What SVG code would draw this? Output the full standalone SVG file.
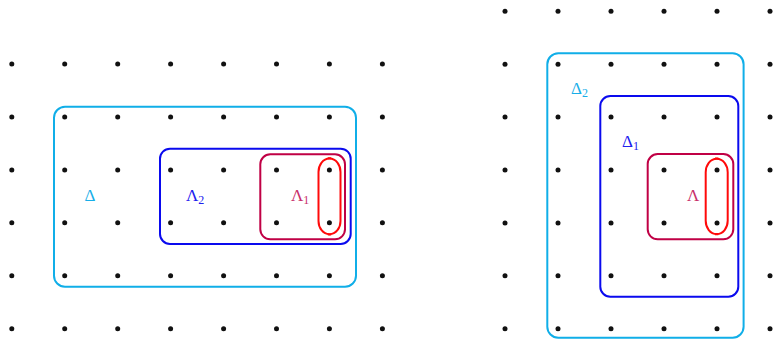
<svg xmlns="http://www.w3.org/2000/svg" width="775" height="339" viewBox="0 0 775 339">
<style>
.dot{fill:#111}
.box{fill:none;stroke-width:2}
.cy{stroke:#10aee8}
.bl{stroke:#0a0aee}
.pu{stroke:#c00045}
.rd{stroke:#ff0a0a;fill:none;stroke-width:2}
.lbl{font-family:"Liberation Serif","DejaVu Serif",serif;font-size:17px}
.sub{font-size:12px}
.tcy{fill:#18aee8}
.tbl{fill:#2020ee}
.tpu{fill:#c8306a}
</style>
<g id="grid-left">
<circle class="dot" cx="11.8" cy="64" r="2.5"/><circle class="dot" cx="64.7" cy="64" r="2.5"/><circle class="dot" cx="117.7" cy="64" r="2.5"/><circle class="dot" cx="170.6" cy="64" r="2.5"/><circle class="dot" cx="223.6" cy="64" r="2.5"/><circle class="dot" cx="276.5" cy="64" r="2.5"/><circle class="dot" cx="329.4" cy="64" r="2.5"/><circle class="dot" cx="382.4" cy="64" r="2.5"/>
<circle class="dot" cx="11.8" cy="117" r="2.5"/><circle class="dot" cx="64.7" cy="117" r="2.5"/><circle class="dot" cx="117.7" cy="117" r="2.5"/><circle class="dot" cx="170.6" cy="117" r="2.5"/><circle class="dot" cx="223.6" cy="117" r="2.5"/><circle class="dot" cx="276.5" cy="117" r="2.5"/><circle class="dot" cx="329.4" cy="117" r="2.5"/><circle class="dot" cx="382.4" cy="117" r="2.5"/>
<circle class="dot" cx="11.8" cy="169.9" r="2.5"/><circle class="dot" cx="64.7" cy="169.9" r="2.5"/><circle class="dot" cx="117.7" cy="169.9" r="2.5"/><circle class="dot" cx="170.6" cy="169.9" r="2.5"/><circle class="dot" cx="223.6" cy="169.9" r="2.5"/><circle class="dot" cx="276.5" cy="169.9" r="2.5"/><circle class="dot" cx="329.4" cy="169.9" r="2.5"/><circle class="dot" cx="382.4" cy="169.9" r="2.5"/>
<circle class="dot" cx="11.8" cy="222.8" r="2.5"/><circle class="dot" cx="64.7" cy="222.8" r="2.5"/><circle class="dot" cx="117.7" cy="222.8" r="2.5"/><circle class="dot" cx="170.6" cy="222.8" r="2.5"/><circle class="dot" cx="223.6" cy="222.8" r="2.5"/><circle class="dot" cx="276.5" cy="222.8" r="2.5"/><circle class="dot" cx="329.4" cy="222.8" r="2.5"/><circle class="dot" cx="382.4" cy="222.8" r="2.5"/>
<circle class="dot" cx="11.8" cy="275.8" r="2.5"/><circle class="dot" cx="64.7" cy="275.8" r="2.5"/><circle class="dot" cx="117.7" cy="275.8" r="2.5"/><circle class="dot" cx="170.6" cy="275.8" r="2.5"/><circle class="dot" cx="223.6" cy="275.8" r="2.5"/><circle class="dot" cx="276.5" cy="275.8" r="2.5"/><circle class="dot" cx="329.4" cy="275.8" r="2.5"/><circle class="dot" cx="382.4" cy="275.8" r="2.5"/>
<circle class="dot" cx="11.8" cy="328.7" r="2.5"/><circle class="dot" cx="64.7" cy="328.7" r="2.5"/><circle class="dot" cx="117.7" cy="328.7" r="2.5"/><circle class="dot" cx="170.6" cy="328.7" r="2.5"/><circle class="dot" cx="223.6" cy="328.7" r="2.5"/><circle class="dot" cx="276.5" cy="328.7" r="2.5"/><circle class="dot" cx="329.4" cy="328.7" r="2.5"/><circle class="dot" cx="382.4" cy="328.7" r="2.5"/>
</g>
<g id="grid-right">
<circle class="dot" cx="505" cy="11.3" r="2.5"/><circle class="dot" cx="558" cy="11.3" r="2.5"/><circle class="dot" cx="611" cy="11.3" r="2.5"/><circle class="dot" cx="664" cy="11.3" r="2.5"/><circle class="dot" cx="717" cy="11.3" r="2.5"/><circle class="dot" cx="770" cy="11.3" r="2.5"/>
<circle class="dot" cx="505" cy="64.2" r="2.5"/><circle class="dot" cx="558" cy="64.2" r="2.5"/><circle class="dot" cx="611" cy="64.2" r="2.5"/><circle class="dot" cx="664" cy="64.2" r="2.5"/><circle class="dot" cx="717" cy="64.2" r="2.5"/><circle class="dot" cx="770" cy="64.2" r="2.5"/>
<circle class="dot" cx="505" cy="117.1" r="2.5"/><circle class="dot" cx="558" cy="117.1" r="2.5"/><circle class="dot" cx="611" cy="117.1" r="2.5"/><circle class="dot" cx="664" cy="117.1" r="2.5"/><circle class="dot" cx="717" cy="117.1" r="2.5"/><circle class="dot" cx="770" cy="117.1" r="2.5"/>
<circle class="dot" cx="505" cy="170" r="2.5"/><circle class="dot" cx="558" cy="170" r="2.5"/><circle class="dot" cx="611" cy="170" r="2.5"/><circle class="dot" cx="664" cy="170" r="2.5"/><circle class="dot" cx="717" cy="170" r="2.5"/><circle class="dot" cx="770" cy="170" r="2.5"/>
<circle class="dot" cx="505" cy="222.9" r="2.5"/><circle class="dot" cx="558" cy="222.9" r="2.5"/><circle class="dot" cx="611" cy="222.9" r="2.5"/><circle class="dot" cx="664" cy="222.9" r="2.5"/><circle class="dot" cx="717" cy="222.9" r="2.5"/><circle class="dot" cx="770" cy="222.9" r="2.5"/>
<circle class="dot" cx="505" cy="275.8" r="2.5"/><circle class="dot" cx="558" cy="275.8" r="2.5"/><circle class="dot" cx="611" cy="275.8" r="2.5"/><circle class="dot" cx="664" cy="275.8" r="2.5"/><circle class="dot" cx="717" cy="275.8" r="2.5"/><circle class="dot" cx="770" cy="275.8" r="2.5"/>
<circle class="dot" cx="505" cy="328.7" r="2.5"/><circle class="dot" cx="558" cy="328.7" r="2.5"/><circle class="dot" cx="611" cy="328.7" r="2.5"/><circle class="dot" cx="664" cy="328.7" r="2.5"/><circle class="dot" cx="717" cy="328.7" r="2.5"/><circle class="dot" cx="770" cy="328.7" r="2.5"/>
</g>
<g id="Delta">
<rect class="box cy" x="54" y="106.7" width="302" height="180" rx="11"/>
<text class="lbl tcy" x="84.5" y="201">Δ</text>
</g>
<g id="Lambda2">
<rect class="box bl" x="160" y="148.7" width="190.7" height="95.3" rx="10"/>
<text class="lbl tbl" x="186" y="201">Λ<tspan class="sub" dy="3">2</tspan></text>
</g>
<g id="Lambda1">
<rect class="box pu" x="260.3" y="154.3" width="84.7" height="85" rx="10"/>
<text class="lbl tpu" x="291" y="201">Λ<tspan class="sub" dy="3">1</tspan></text>
</g>
<g id="capsule-left">
<path class="rd" d="M329.5,158.5 C336,158.5 340.5,165 340.5,172 L340.5,221 C340.5,228 336,234.2 329.5,234.2 C323,234.2 318.5,228 318.5,221 L318.5,172 C318.5,165 323,158.5 329.5,158.5 Z"/>
<path class="rd" stroke-width="2.5" d="M327.8,158.3 h3.4 M327.8,234.4 h3.4"/>
</g>
<g id="Delta2">
<rect class="box cy" x="547.3" y="53.3" width="196.3" height="284.4" rx="11"/>
<text class="lbl tcy" x="571" y="94">Δ<tspan class="sub" dy="3">2</tspan></text>
</g>
<g id="Delta1">
<rect class="box bl" x="600.3" y="96" width="138" height="200.7" rx="10"/>
<text class="lbl tbl" x="622" y="147">Δ<tspan class="sub" dy="3">1</tspan></text>
</g>
<g id="Lambda">
<rect class="box pu" x="647.7" y="154" width="85.6" height="85.3" rx="10"/>
<text class="lbl tpu" x="687" y="201">Λ</text>
</g>
<g id="capsule-right">
<path class="rd" d="M716.7,158.8 C723.2,158.8 727.7,165.3 727.7,172.3 L727.7,220.8 C727.7,227.8 723.2,234 716.7,234 C710.2,234 705.7,227.8 705.7,220.8 L705.7,172.3 C705.7,165.3 710.2,158.8 716.7,158.8 Z"/>
<path class="rd" stroke-width="2.5" d="M715,158.6 h3.4 M715,234.2 h3.4"/>
</g>
<g id="connectors"></g>
</svg>
